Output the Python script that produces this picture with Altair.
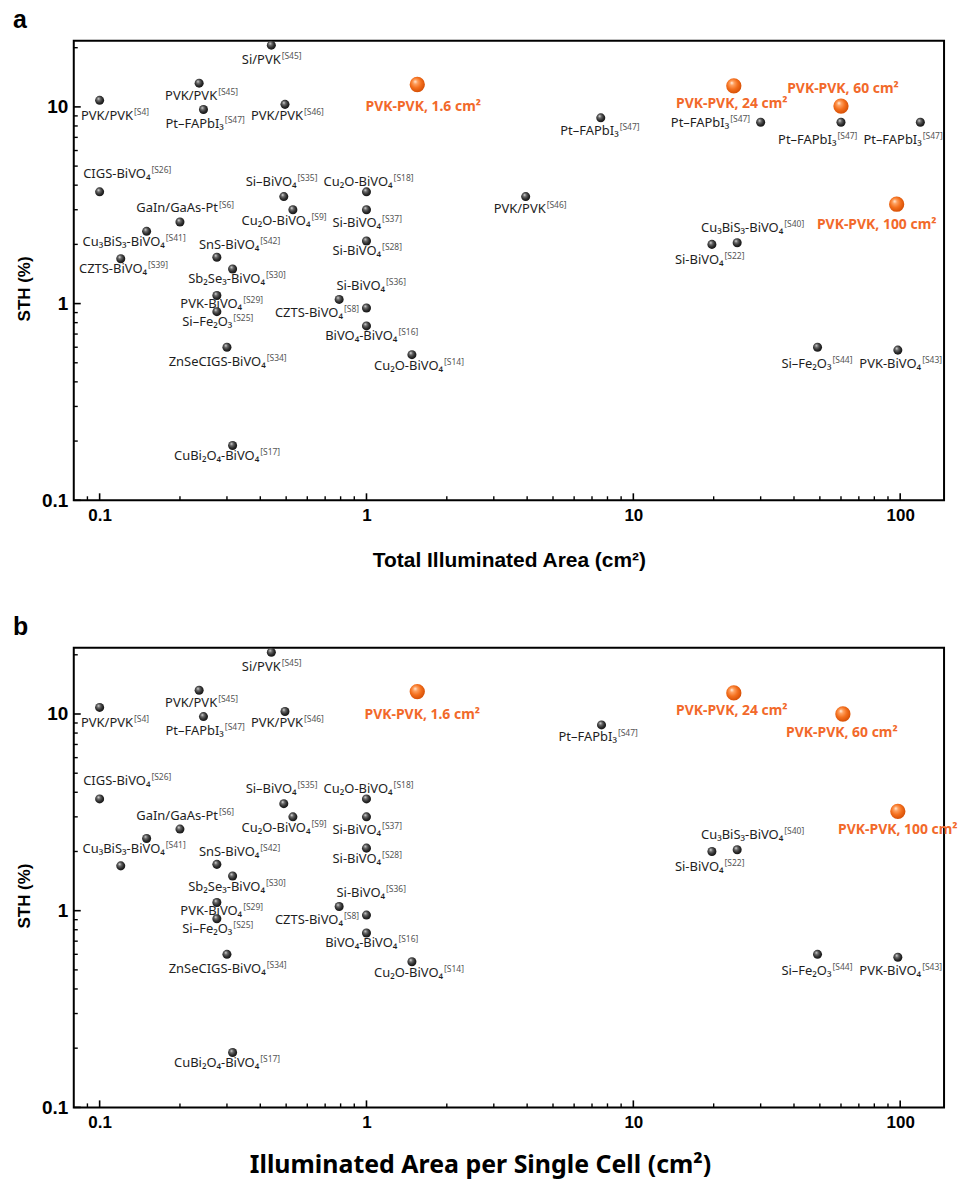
import math
import altair as alt
import pandas as pd

# ---------------- data ----------------
# panel a : Total illuminated area (cm^2) vs STH (%)
A_NAMES = ["Si/PVK", "PVK/PVK", "PVK/PVK", "Pt–FAPbI₃", "PVK/PVK", "CIGS-BiVO₄", "Si–BiVO₄",
           "Cu₂O-BiVO₄", "Cu₂O-BiVO₄", "Si-BiVO₄", "GaIn/GaAs-Pt", "Cu₃BiS₃-BiVO₄", "Si-BiVO₄",
           "SnS-BiVO₄", "CZTS-BiVO₄", "Sb₂Se₃-BiVO₄", "PVK-BiVO₄", "Si–Fe₂O₃", "Si-BiVO₄",
           "CZTS-BiVO₄", "BiVO₄-BiVO₄", "ZnSeCIGS-BiVO₄", "Cu₂O-BiVO₄", "CuBi₂O₄-BiVO₄",
           "Pt–FAPbI₃", "Pt–FAPbI₃", "Pt–FAPbI₃", "Pt–FAPbI₃", "PVK/PVK", "Si-BiVO₄",
           "Cu₃BiS₃-BiVO₄", "Si–Fe₂O₃", "PVK-BiVO₄"]
A_REFS = ["[S45]", "[S45]", "[S4]", "[S47]", "[S46]", "[S26]", "[S35]", "[S18]", "[S9]", "[S37]",
          "[S6]", "[S41]", "[S28]", "[S42]", "[S39]", "[S30]", "[S29]", "[S25]", "[S36]", "[S8]",
          "[S16]", "[S34]", "[S14]", "[S17]", "[S47]", "[S47]", "[S47]", "[S47]", "[S46]", "[S22]",
          "[S40]", "[S44]", "[S43]"]
A_AREA = [0.44, 0.236, 0.1, 0.245, 0.495, 0.1, 0.49, 1.0, 0.53, 1.0, 0.2, 0.15, 1.0, 0.275, 0.12,
          0.315, 0.275, 0.275, 1.0, 0.79, 1.0, 0.3, 1.48, 0.315, 7.55, 30, 60, 119, 3.95, 19.7,
          24.5, 49, 98]
A_STH = [20.6, 13.2, 10.8, 9.7, 10.3, 3.7, 3.5, 3.7, 3.0, 3.0, 2.6, 2.33, 2.08, 1.72, 1.69, 1.5,
         1.1, 0.91, 0.95, 1.05, 0.77, 0.6, 0.55, 0.19, 8.8, 8.35, 8.35, 8.35, 3.5, 2.0, 2.04,
         0.6, 0.58]

# this work (orange)
HL_NAMES = ["PVK-PVK, 1.6 cm²", "PVK-PVK, 24 cm²", "PVK-PVK, 60 cm²", "PVK-PVK, 100 cm²"]
HL_AREA = [1.55, 23.8, 60, 97]
HL_STH = [13.0, 12.8, 10.1, 3.2]

# panel b : illuminated area per single cell
B_NAMES = ["Si/PVK", "PVK/PVK", "PVK/PVK", "Pt–FAPbI₃", "PVK/PVK", "CIGS-BiVO₄", "Si–BiVO₄",
           "Cu₂O-BiVO₄", "Cu₂O-BiVO₄", "Si-BiVO₄", "GaIn/GaAs-Pt", "Cu₃BiS₃-BiVO₄", "Si-BiVO₄",
           "SnS-BiVO₄", "", "Sb₂Se₃-BiVO₄", "PVK-BiVO₄", "Si–Fe₂O₃", "Si-BiVO₄",
           "CZTS-BiVO₄", "BiVO₄-BiVO₄", "ZnSeCIGS-BiVO₄", "Cu₂O-BiVO₄", "CuBi₂O₄-BiVO₄",
           "Pt–FAPbI₃", "Si-BiVO₄", "Cu₃BiS₃-BiVO₄", "Si–Fe₂O₃", "PVK-BiVO₄"]
B_REFS = ["[S45]", "[S45]", "[S4]", "[S47]", "[S46]", "[S26]", "[S35]", "[S18]", "[S9]", "[S37]",
          "[S6]", "[S41]", "[S28]", "[S42]", "", "[S30]", "[S29]", "[S25]", "[S36]", "[S8]",
          "[S16]", "[S34]", "[S14]", "[S17]", "[S47]", "[S22]", "[S40]", "[S44]", "[S43]"]
B_AREA = [0.44, 0.236, 0.1, 0.245, 0.495, 0.1, 0.49, 1.0, 0.53, 1.0, 0.2, 0.15, 1.0, 0.275, 0.12,
          0.315, 0.275, 0.275, 1.0, 0.79, 1.0, 0.3, 1.48, 0.315, 7.6, 19.7, 24.5, 49, 98]
B_STH = [20.6, 13.2, 10.8, 9.7, 10.3, 3.7, 3.5, 3.7, 3.0, 3.0, 2.6, 2.33, 2.08, 1.72, 1.69, 1.5,
         1.1, 0.91, 0.95, 1.05, 0.77, 0.6, 0.55, 0.19, 8.8, 2.0, 2.04, 0.6, 0.58]
HLB_AREA = [1.55, 23.8, 61, 98]
HLB_STH = [13.0, 12.8, 10.0, 3.2]

# ---------------- layout / style ----------------
W, H = 873, 461
XMIN, XMAX = 0.08, 146
YMIN, YMAX = 0.1, 21.7
PX_X = W / math.log10(XMAX / XMIN)
PX_Y = H / math.log10(YMAX / YMIN)

# label offsets (pixels, label centre relative to ball centre; +dy = downward)
A_OFF = [(0, 14), (2, 12), (15, 15), (1, 14), (2, 11), (27, -18), (-3, -15), (1, -10), (-10, 11),
         (0, 13), (5, -14), (-14, 10), (0, 10), (22, -13), (2, 10), (3, 10), (4, 8), (0, 10),
         (4, -23), (-23, 13), (4, 10), (0, 14), (6, 11), (-7, 10), (-1.5, 13), (-51, 0),
         (-24, 17), (-18, 17), (4, 12), (-3, 15), (14, -15), (-1.5, 16), (2, 13)]
B_OFF = A_OFF[:24] + [(-4, 12)] + A_OFF[29:]
HL_OFF_A = [(6, 22), (-2, 17), (2, -18), (-20, 20)]
HL_OFF_B = [(5, 22), (-2, 17), (-1, 18), (0, 18)]

ORANGE = "#F2692A"
LABEL_FONT = "Noto Sans"
BOLD = "Liberation Sans, Arial, sans-serif"

DARK_BALL = {"gradient": "radial", "x1": 0.36, "y1": 0.3, "r1": 0.0, "x2": 0.45, "y2": 0.45,
             "r2": 0.62,
             "stops": [{"offset": 0, "color": "#e6e6e6"}, {"offset": 0.28, "color": "#6e6e6e"},
                       {"offset": 0.65, "color": "#2c2c2c"}, {"offset": 1, "color": "#0e0e0e"}]}
ORANGE_BALL = {"gradient": "radial", "x1": 0.36, "y1": 0.3, "r1": 0.0, "x2": 0.45, "y2": 0.45,
               "r2": 0.62,
               "stops": [{"offset": 0, "color": "#fff2e4"}, {"offset": 0.22, "color": "#ffa262"},
                         {"offset": 0.55, "color": "#f4701e"}, {"offset": 1, "color": "#cf4800"}]}

# approximate advance widths (em) for Noto Sans, used to centre label+superscript pairs
CW = {" ": .26, "-": .322, "–": .5, "/": .372, ".": .268, ",": .25, "[": .303, "]": .303,
      "A": .639, "B": .651, "C": .632, "D": .726, "E": .556, "F": .521, "G": .727, "I": .33,
      "K": .618, "L": .531, "N": .77, "O": .779, "P": .603, "S": .549, "T": .553, "V": .618,
      "Z": .568, "a": .561, "b": .615, "e": .564, "i": .258, "l": .258, "n": .618, "s": .479,
      "t": .361, "u": .618, "h": .618, "₂": .4, "₃": .4, "₄": .4}


def tw(s, size):
    return sum(CW.get(c, .572 if c.isdigit() else .56) for c in s) * size


def sx(v, px):
    return v * 10 ** (px / PX_X)


def sy(v, px):  # px positive = downward
    return v * 10 ** (-px / PX_Y)


MAIN_FS, SUP_FS = 13, 8.5


def label_table(names, refs, xs, ys, offs):
    rows = []
    for n, r, x, y, (dx, dy) in zip(names, refs, xs, ys, offs):
        if not n:
            continue
        wm, ws = tw(n, MAIN_FS), tw(r, SUP_FS)
        anchor = dx - (wm + ws + 1) / 2 + wm
        base = dy + 4.5
        rows.append({"main": n, "sup": r,
                     "mx": sx(x, anchor), "my": sy(y, base),
                     "supx": sx(x, anchor + 1), "supy": sy(y, base - 5)})
    return pd.DataFrame(rows)


def hl_table(names, xs, ys, offs):
    return pd.DataFrame([{"t": n, "lx": sx(x, dx), "ly": sy(y, dy + 5)}
                         for n, x, y, (dx, dy) in zip(names, xs, ys, offs)])


X_MAJOR = [0.1, 1, 10, 100]
X_MINOR = [0.09] + [round(k * d, 3) for d in (0.1, 1, 10) for k in range(2, 10)]
Y_MAJOR = [0.1, 1, 10]
Y_MINOR = [round(k * d, 3) for d in (0.1, 1) for k in range(2, 10)] + [20]


def panel(letter, title, title_font, title_size, title_pad, title_x,
          pts_x, pts_y, labels, hl_x, hl_y, hl_lab):
    xscale = alt.Scale(type="log", domain=[XMIN, XMAX], nice=False, zero=False)
    yscale = alt.Scale(type="log", domain=[YMIN, YMAX], nice=False, zero=False)
    xaxis = alt.Axis(values=X_MAJOR, format="~g", ticks=False, domain=False, grid=False,
                     labelFont=BOLD, labelFontSize=17, labelFontWeight="bold", labelColor="black",
                     labelPadding=7, title=title, titleFont=title_font, titleFontSize=title_size,
                     titleFontWeight="bold", titleColor="black", titlePadding=title_pad,
                     titleX=title_x, labelFlush=False)
    yaxis = alt.Axis(values=Y_MAJOR, format="~g", ticks=False, domain=False, grid=False,
                     labelFont=BOLD, labelFontSize=19, labelFontWeight="bold", labelColor="black",
                     labelPadding=6, title="STH (%)", titleFont=BOLD, titleFontSize=17,
                     titleFontWeight="bold", titleColor="black", titlePadding=8,
                     titleY=H / 2 + 18, labelFlush=False)

    def X(f):
        return alt.X(f"{f}:Q", scale=xscale, axis=xaxis)

    def Y(f):
        return alt.Y(f"{f}:Q", scale=yscale, axis=yaxis)

    pts = pd.DataFrame({"x": pts_x, "y": pts_y})
    hl = pd.DataFrame({"x": hl_x, "y": hl_y})

    xt_major = alt.Chart(pd.DataFrame({"v": X_MAJOR})).mark_rule(color="black", strokeWidth=1.6).encode(
        x=X("v"), y=alt.value(H), y2=alt.value(H - 7))
    xt_minor = alt.Chart(pd.DataFrame({"v": X_MINOR})).mark_rule(color="black", strokeWidth=1.4).encode(
        x=X("v"), y=alt.value(H), y2=alt.value(H - 4))
    yt_major = alt.Chart(pd.DataFrame({"v": Y_MAJOR})).mark_rule(color="black", strokeWidth=1.6).encode(
        y=Y("v"), x=alt.value(0), x2=alt.value(7))
    yt_minor = alt.Chart(pd.DataFrame({"v": Y_MINOR})).mark_rule(color="black", strokeWidth=1.4).encode(
        y=Y("v"), x=alt.value(0), x2=alt.value(4))

    main_txt = alt.Chart(labels).mark_text(align="right", baseline="alphabetic", font=LABEL_FONT,
                                           fontSize=MAIN_FS, color="#1e1e1e").encode(
        x=X("mx"), y=Y("my"), text="main:N")
    sup_txt = alt.Chart(labels).mark_text(align="left", baseline="alphabetic", font=LABEL_FONT,
                                          fontSize=SUP_FS, color="#555555").encode(
        x=X("supx"), y=Y("supy"), text="sup:N")
    hl_txt = alt.Chart(hl_lab).mark_text(align="center", baseline="alphabetic", font=LABEL_FONT,
                                         fontSize=14, fontWeight="bold", color=ORANGE).encode(
        x=X("lx"), y=Y("ly"), text="t:N")

    balls = alt.Chart(pts).mark_point(filled=True, shape="circle", size=82, fill=DARK_BALL,
                                      opacity=1, strokeWidth=0).encode(x=X("x"), y=Y("y"))
    hballs = alt.Chart(hl).mark_point(filled=True, shape="circle", size=235, fill=ORANGE_BALL,
                                      opacity=1, strokeWidth=0).encode(x=X("x"), y=Y("y"))

    let = alt.Chart(pd.DataFrame({"t": [letter]})).mark_text(
        align="left", baseline="alphabetic", font=BOLD, fontSize=25, fontWeight="bold",
        color="black").encode(x=alt.value(-61), y=alt.value(-13), text="t:N")

    return alt.layer(xt_major, xt_minor, yt_major, yt_minor, main_txt, sup_txt, hl_txt,
                     balls, hballs, let).properties(width=W, height=H)


pa = panel("a", "Total Illuminated Area (cm²)", BOLD, 21, 26, W / 2,
           A_AREA, A_STH, label_table(A_NAMES, A_REFS, A_AREA, A_STH, A_OFF),
           HL_AREA, HL_STH, hl_table(HL_NAMES, HL_AREA, HL_STH, HL_OFF_A))
pb = panel("b", "Illuminated Area per Single Cell (cm²)", "Noto Sans", 25, 22, W / 2 - 29,
           B_AREA, B_STH, label_table(B_NAMES, B_REFS, B_AREA, B_STH, B_OFF),
           HLB_AREA, HLB_STH, hl_table(HL_NAMES, HLB_AREA, HLB_STH, HL_OFF_B))

chart = alt.vconcat(pa, pb, spacing=43).properties(
    padding={"left": 12, "top": 5, "right": 0, "bottom": 0}
).configure(background="white").configure_view(stroke="black", strokeWidth=2)

chart.save("out.html", embed_options={"renderer": "svg", "actions": False})
